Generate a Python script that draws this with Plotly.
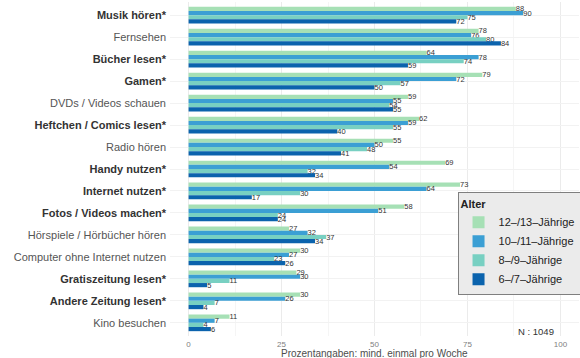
import plotly.graph_objects as go

categories = [
    "Musik hören*", "Fernsehen", "Bücher lesen*", "Gamen*", "DVDs / Videos schauen",
    "Heftchen / Comics lesen*", "Radio hören", "Handy nutzen*", "Internet nutzen*",
    "Fotos / Videos machen*", "Hörspiele / Hörbücher hören", "Computer ohne Internet nutzen",
    "Gratiszeitung lesen*", "Andere Zeitung lesen*", "Kino besuchen",
]
series_names = ["12–/13–Jährige", "10–/11–Jährige", "8–/9–Jährige", "6–/7–Jährige"]
age_12_13 = [88, 78, 64, 79, 59, 62, 55, 69, 73, 58, 27, 30, 29, 30, 11]
age_10_11 = [90, 76, 78, 72, 55, 59, 50, 54, 64, 51, 32, 27, 30, 26, 7]
age_8_9 = [75, 80, 74, 57, 54, 55, 48, 32, 30, 24, 37, 23, 11, 7, 4]
age_6_7 = [72, 84, 59, 50, 55, 40, 41, 34, 17, 24, 34, 26, 5, 4, 6]
x_ticks = [0, 25, 50, 75, 100]
note = "N : 1049"
x_title = "Prozentangaben: mind. einmal pro Woche"

series_values = [age_12_13, age_10_11, age_8_9, age_6_7]
colors = ["#a6e0b5", "#3b9fd4", "#78d0c2", "#0b63ad"]

fig = go.Figure()
for name, vals, col in zip(series_names, series_values, colors):
    fig.add_trace(go.Bar(
        y=categories, x=vals, name=name, orientation="h",
        marker=dict(color=col, line=dict(width=0)),
        text=[str(v) for v in vals], textposition="outside",
        textfont=dict(size=7.5, color="#333333"),
        constraintext="none", cliponaxis=False,
    ))

ticktext = [f"<b>{c}</b>" if c.endswith("*") else f"<span style='color:#555555'>{c}</span>" for c in categories]

fig.update_layout(
    width=580, height=358,
    margin=dict(l=170, r=1, t=2, b=22, autoexpand=False),
    barmode="group", bargap=0.24, bargroupgap=0,
    plot_bgcolor="white", paper_bgcolor="white",
    font=dict(family="Liberation Sans, Arial, sans-serif", color="#333333"),
    showlegend=True,
    legend=dict(
        x=0.703, y=0.43, xanchor="left", yanchor="top",
        bgcolor="#ebebeb", bordercolor="#7f7f7f", borderwidth=1,
        title=dict(text="<b>Alter</b>", font=dict(size=11, color="#222222")),
        font=dict(size=11, color="#222222"),
        traceorder="normal", itemwidth=30, tracegroupgap=0,
    ),
    xaxis=dict(
        range=[-5, 105], tickvals=x_ticks, ticktext=[str(t) for t in x_ticks],
        showgrid=True, gridcolor="#ebebeb", gridwidth=1, zeroline=False,
        minor=dict(dtick=12.5, showgrid=True, gridcolor="#f5f5f5", gridwidth=0.5),
        tickfont=dict(size=8, color="#808080"), ticks="",
        ticklabelstandoff=2, automargin=False,
    ),
    yaxis=dict(
        tickvals=categories, ticktext=ticktext, autorange=False,
        range=[len(categories) - 0.4, -0.6],
        showgrid=True, gridcolor="#f2f2f2", zeroline=False,
        tickfont=dict(size=11, color="#333333"), ticks="", automargin=False,
        ticklabelstandoff=3,
    ),
)
fig.add_annotation(
    text=x_title, xref="paper", yref="paper", x=0.5, y=-0.052,
    xanchor="center", yanchor="middle", showarrow=False,
    font=dict(size=10, color="#4d4d4d"),
)
fig.add_annotation(
    text=note, xref="paper", yref="paper", x=0.944, y=0.012,
    xanchor="right", yanchor="middle", showarrow=False,
    font=dict(size=9.5, color="#333333"),
)
fig.write_html("out.html", post_script="document.body.style.margin='0';",
               config={"displayModeBar": False})
